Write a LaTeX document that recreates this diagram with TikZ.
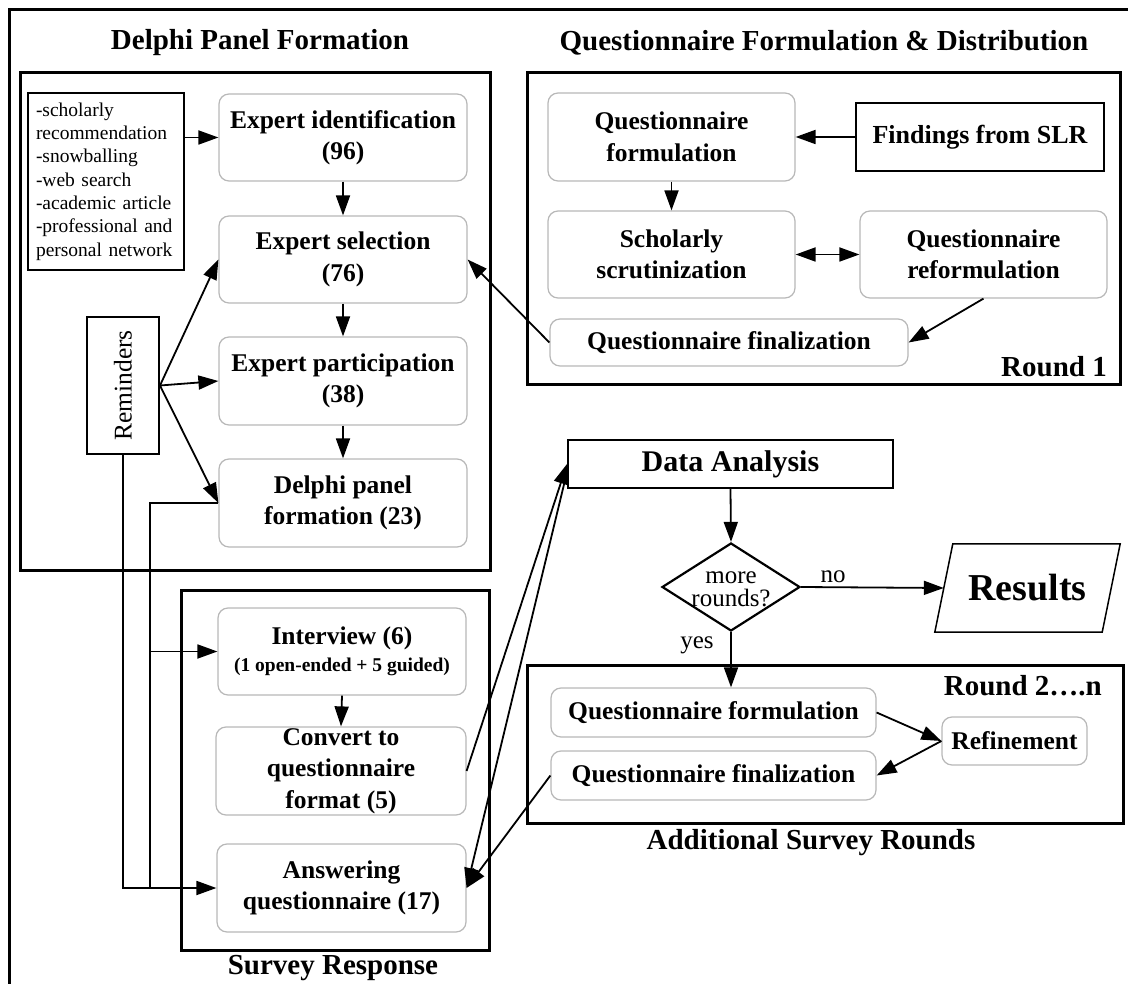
\documentclass[tikz,border=0pt]{standalone}
\usepackage{fontspec}
\setmainfont{Liberation Serif}
\usepackage{graphicx}
\usetikzlibrary{arrows.meta,shapes.geometric,calc}

\begin{document}
\begin{tikzpicture}[x=1pt,y=-1pt,
  proc/.style={draw=black!28, line width=1.2pt, rounded corners=10pt, fill=white,
    align=center, inner sep=0pt, font=\bfseries\fontsize{25.5}{31.5}\selectfont},
  frame/.style={draw=black, line width=3pt},
  plainbox/.style={draw=black, line width=2pt, fill=white, inner sep=0pt},
  conn/.style={line width=1.8pt, -{Triangle[length=20pt,width=14pt]}},
  biconn/.style={line width=1.8pt, {Triangle[length=20pt,width=14pt]}-{Triangle[length=20pt,width=14pt]}},
  wire/.style={line width=1.8pt},
  heading/.style={font=\bfseries\fontsize{29}{34}\selectfont, inner sep=0pt},
  lbl/.style={font=\fontsize{25}{23}\selectfont, inner sep=0pt},
]
\useasboundingbox (0,0) rectangle (1128,984);

% outer frame and group frames
\draw[frame] (9,10) rectangle (1145,1000);
\draw[frame] (20,73) rectangle (490,570);
\draw[frame] (527,73) rectangle (1120,385);
\draw[frame] (181,590) rectangle (489,950);
\draw[frame] (527,665) rectangle (1123,823);

% group headings
\node[heading] (hdelphi) at (260,43) {Delphi Panel Formation};
\node[heading] (hquest) at (824,43) {Questionnaire Formulation \& Distribution};
\node[heading] (hsurvey) at (333,968) {Survey Response};
\node[heading] (hadd) at (811,843) {Additional Survey Rounds};
\node[heading, anchor=east] (hr1) at (1107,367) {Round 1};
\node[heading, anchor=east] (hr2) at (1102,686) {Round 2….n};

% Delphi panel formation
\node[plainbox, minimum width=156, minimum height=177, align=left, text width=140pt,
      font=\fontsize{19.5}{23.3}\selectfont] (src) at (106,181.5)
  {-scholarly\\recommendation\\-snowballing\\-web search\\-academic article\\-professional and\\personal network};
\node[proc, minimum width=248, minimum height=87] (expid) at (343,137.5) {Expert identification\\(96)};
\node[proc, minimum width=248, minimum height=87] (expsel) at (343,259.5) {Expert selection\\(76)};
\node[proc, minimum width=248, minimum height=88] (exppart) at (343,381) {Expert participation\\(38)};
\node[proc, minimum width=248, minimum height=88] (panel) at (343,503) {Delphi panel\\formation (23)};
\node[plainbox, minimum width=72, minimum height=137, font=\fontsize{25.5}{30}\selectfont] (rem) at (123,385.5)
  {\rotatebox{90}{Reminders}};

% survey response
\node[proc, minimum width=248, minimum height=87] (intv) at (342,651.5)
  {Interview (6)\\[-4pt]{\fontsize{19.5}{23}\selectfont (1 open-ended + 5 guided)}};
\node[proc, minimum width=250, minimum height=88] (conv) at (341,771) {Convert to\\questionnaire\\format (5)};
\node[proc, minimum width=249, minimum height=88] (ans) at (341.5,888) {Answering\\questionnaire (17)};

% round 1
\node[proc, minimum width=247, minimum height=88] (qform) at (671.5,137) {Questionnaire\\formulation};
\node[plainbox, minimum width=248, minimum height=68, font=\bfseries\fontsize{26}{31}\selectfont] (slr) at (980,137) {Findings from SLR};
\node[proc, minimum width=247, minimum height=87] (schol) at (671.5,254.5) {Scholarly\\scrutinization};
\node[proc, minimum width=247, minimum height=87] (qref) at (983.5,254.5) {Questionnaire\\reformulation};
\node[proc, minimum width=358, minimum height=47] (qfin) at (729,342.5) {Questionnaire finalization};

% analysis and decision
\node[plainbox, minimum width=325, minimum height=48, font=\bfseries\fontsize{30}{34}\selectfont] (da) at (730.5,464) {Data Analysis};
\node[diamond, draw=black, line width=2.2pt, minimum width=138, minimum height=88, inner sep=0pt] (dec) at (731,587) {};
\node[lbl, align=center] (dectext) at (731,589) {more\\rounds?};
\node[minimum width=167, minimum height=88, inner sep=0pt, font=\bfseries\fontsize{38}{40}\selectfont] (res) at (1027.5,588) {Results};
\draw[line width=1.5pt] ($(res.south west)+(-9,0)$) -- ($(res.south east)+(-9,0)$)
  -- ($(res.north east)+(9,0)$) -- ($(res.north west)+(9,0)$) -- cycle;

% round 2..n
\node[proc, minimum width=325, minimum height=49] (qf2) at (713.5,712.5) {Questionnaire formulation};
\node[proc, minimum width=325, minimum height=49] (qfin2) at (713.5,775.5) {Questionnaire finalization};
\node[proc, minimum width=145, minimum height=48] (ref) at (1014.5,741) {Refinement};

% bus line on the left
\coordinate (bus) at (150,0);

% connectors: panel formation
\draw[conn] (src.east |- expid.west) -- (expid.west);
\draw[conn] (expid.south) -- (expsel.north);
\draw[conn] (expsel.south) -- (exppart.north);
\draw[conn] (exppart.south) -- (panel.north);
\draw[conn] (rem.east) -- (expsel.west);
\draw[conn] (rem.east) -- (exppart.west);
\draw[conn] (rem.east) -- (panel.west);
\draw[wire] (panel.west) -- (panel.west -| bus) -- (bus |- ans.west);
\draw[conn] (bus |- intv.west) -- (intv.west);
\draw[conn] (rem.south) |- (ans.west);

% connectors: round 1
\draw[conn] (slr.west) -- (qform.east);
\draw[conn] (qform.south) -- (schol.north);
\draw[biconn] (schol.east) -- (qref.west);
\draw[conn] (qref.south) -- (qfin.east);
\draw[conn] (qfin.west) -- (expsel.east);

% connectors: survey response and analysis
\draw[conn] (intv.south) -- (conv.north);
\draw[conn] (conv.east) -- (da.west);
\draw[conn] ([yshift=-8pt]da.west) -- (ans.east);
\draw[conn] (da.south) -- (dec.north);
\draw[conn] (dec.east) -- (res.west);
\node[lbl] (nolab) at (833,577) {no};
\draw[conn] (dec.south) -- (dec.south |- qf2.north);
\node[lbl] (yeslab) at (697,645) {yes};

% connectors: round 2..n
\draw[conn] (qf2.east) -- (ref.west);
\draw[conn] (ref.west) -- (qfin2.east);
\draw[conn] (qfin2.west) -- (ans.east);
\end{tikzpicture}
\end{document}
